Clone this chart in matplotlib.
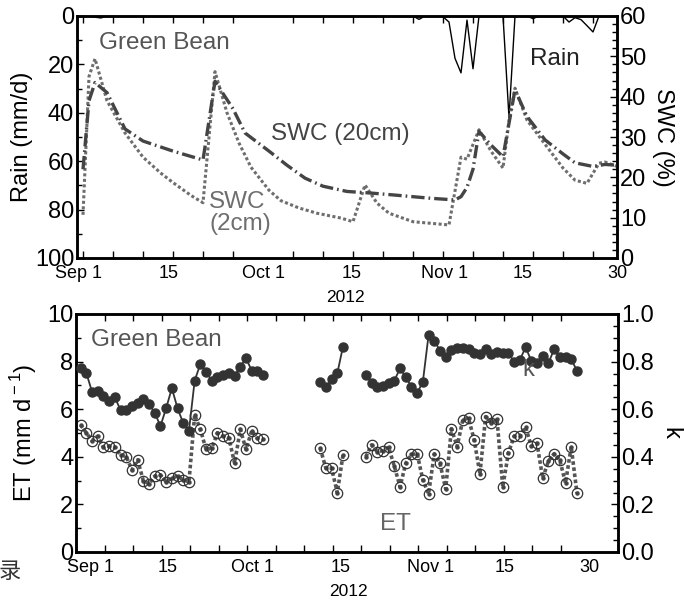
import numpy as np
import matplotlib
matplotlib.use("Agg")
import matplotlib.pyplot as plt
from matplotlib.ticker import MultipleLocator, FixedLocator

plt.rcParams['font.family'] = ['Liberation Sans', 'DejaVu Sans']
plt.rcParams['mathtext.fontset'] = 'custom'
plt.rcParams['mathtext.rm'] = 'Liberation Sans'

# ---- top panel: daily rain and soil water content (day 0 = Sep 1, 2012) ----
rain_mm = [0, 0, 0.5, 0.8, 0, 0, 0, 0, 0, 0,
           0, 0, 0, 0, 0, 0, 0, 0, 0, 0,
           0, 0, 0, 0, 0, 0, 0, 0, 0, 0,
           0, 0, 0, 0, 0, 0, 0, 0, 0, 0,
           0, 0, 0, 0, 0, 0, 0, 0, 0, 0,
           0, 0, 0, 0, 0, 0, 1.4, 0, 0, 0,
           0.3, 2.5, 17.5, 23.5, 1.7, 21.8, 0, 0, 0, 0,
           0, 42, 0, 0, 0, 1.1, 0, 0, 0, 0,
           0, 2.5, 0.7, 1.5, 4.0, 6.6, 0, 0, 0, 0]

swc20_day = [0, 1, 2, 4, 7, 10, 15, 20, 22, 25, 27, 31, 34, 37, 40, 44, 48, 52, 58, 62,
             63, 64, 65, 66, 68, 70, 72, 74, 77, 80, 82, 85, 87, 89]
swc20 = [22, 39, 43.5, 41, 32, 29, 26.5, 24.3, 43.8, 37, 31, 26.5, 23, 19.8, 17.8, 16.5,
         16.1, 15.6, 14.8, 14.4, 15.2, 17.5, 22, 31.4, 28, 25.1, 41.7, 35.1, 29.3, 25.8,
         23.6, 22.7, 23.2, 23]

swc2_day = [0, 1, 2, 4, 7, 10, 13, 15, 18, 20, 22, 24, 26, 28, 31, 33, 36, 39, 43, 45,
            47, 49, 51, 55, 61, 63, 64, 66, 68, 70, 71, 72, 74, 77, 80, 82, 84, 86, 87, 89]
swc2 = [10.7, 45, 49.4, 39, 31, 25, 21, 18.7, 15.5, 13.7, 46.2, 36, 28.5, 22.5, 16.8, 14.2,
        12.4, 11.1, 9.9, 9.0, 18.1, 13.6, 11.1, 9.0, 8.2, 25, 24.5, 31.8, 26.5, 22.3,
        34, 42.1, 34.2, 28.2, 22.3, 19.3, 18.5, 23.5, 23.8, 22.7]

# ---- bottom panel: ET (mm/d) and crop coefficient k, three measuring periods ----
seg_start = [0, 42, 50]
et_seg = [
    [5.34, 5.01, 4.68, 4.87, 4.40, 4.45, 4.40, 4.08, 4.01, 3.45, 3.87, 3.00, 2.86, 3.19,
     3.24, 2.95, 3.10, 3.19, 3.03, 2.95, 5.76, 5.15, 4.31, 4.36, 5.01, 4.87, 4.78, 3.73,
     5.15, 4.31, 5.10, 4.78, 4.73],
    [4.36, 3.52, 3.52, 2.49, 4.08],
    [4.0, 4.5, 4.22, 4.26, 4.4, 3.6, 2.74, 3.73, 4.1, 4.13, 3.02, 2.45, 4.12, 3.72, 2.65,
     5.18, 4.43, 5.56, 5.62, 4.7, 3.28, 5.69, 5.43, 5.57, 2.74, 4.17, 4.87, 4.87, 5.25,
     4.45, 4.57, 3.10, 3.82, 4.13, 3.86, 2.9, 4.42, 2.48],
]
k_seg = [
    [0.772, 0.753, 0.674, 0.676, 0.655, 0.636, 0.650, 0.597, 0.597, 0.613, 0.625, 0.642,
     0.622, 0.585, 0.529, 0.604, 0.688, 0.604, 0.541, 0.510, 0.720, 0.790, 0.758, 0.720,
     0.734, 0.744, 0.753, 0.739, 0.779, 0.814, 0.762, 0.762, 0.744],
    [0.716, 0.692, 0.726, 0.751, 0.863],
    [0.744, 0.711, 0.695, 0.697, 0.709, 0.720, 0.772, 0.734, 0.695, 0.667, 0.716, 0.912,
     0.888, 0.846, 0.821, 0.849, 0.856, 0.856, 0.852, 0.835, 0.832, 0.852, 0.832, 0.842,
     0.837, 0.835, 0.800, 0.807, 0.860, 0.804, 0.793, 0.824, 0.793, 0.852, 0.818, 0.821,
     0.810, 0.762],
]

date_labels = ["Sep 1", "15", "Oct 1", "15", "Nov 1", "15", "30"]
top_label_pos = [-0.8, 14.2, 30, 44.8, 60.2, 73.3, 89]
bot_label_pos = [1.8, 15.2, 30.2, 45.6, 61.3, 74.4, 89.2]

W, H = 685, 605
fig = plt.figure(figsize=(W / 100, H / 100), dpi=100)


def box(x0, y0, x1, y1):
    return [x0 / W, 1 - y1 / H, (x1 - x0) / W, (y1 - y0) / H]


def style(ax):
    for s in ax.spines.values():
        s.set_linewidth(1.8)
    ax.tick_params(which='both', direction='in', width=1.0, labelsize=17, pad=2)
    ax.tick_params(which='major', length=5)
    ax.tick_params(which='minor', length=3.5)


def date_axis(ax, xlim, marks, label_pos):
    ax.set_xlim(*xlim)
    ax.xaxis.set_major_locator(FixedLocator(label_pos))
    ax.set_xticklabels(date_labels)
    ax.xaxis.set_minor_locator(FixedLocator(marks))
    ax.tick_params(axis='x', which='major', length=0, labelsize=13, pad=5)
    ax.tick_params(axis='x', which='minor', length=5, top=True, bottom=True)


# ---------------- top panel ----------------
ax1 = fig.add_axes(box(77, 16, 617, 258))
ax2 = ax1.twinx()
style(ax1)
style(ax2)

ax1.plot(np.arange(len(rain_mm)), rain_mm, color='k', lw=1.0, zorder=3)
ax1.set_ylim(100, 0)
ax1.yaxis.set_major_locator(MultipleLocator(20))
ax1.yaxis.set_minor_locator(MultipleLocator(10))
ax1.set_ylabel("Rain (mm/d)", fontsize=17, labelpad=1)
date_axis(ax1, (-1, 89), np.arange(0, 89, 5), top_label_pos)

ax2.plot(swc2_day, swc2, color='#6e6e6e', lw=2.2, linestyle=(0, (1, 0.8)))
ax2.plot(swc20_day, swc20, color='#444444', lw=2.4, linestyle=(0, (4, 1.2, 0.5, 1.2)))
ax2.set_ylim(0, 60)
ax2.yaxis.set_major_locator(MultipleLocator(10))
ax2.yaxis.set_minor_locator(MultipleLocator(2))
ax2.set_ylabel("SWC (%)", fontsize=17, rotation=270, labelpad=20)

fig.text(164 / W, 1 - 43 / H, "Green Bean", fontsize=17.5, color='#555555',
         ha='center', va='center')
fig.text(340 / W, 1 - 134 / H, "SWC (20cm)", fontsize=17.5, color='#444444',
         ha='center', va='center')
fig.text(209 / W, 1 - 213 / H, "SWC\n(2cm)", fontsize=17.5, color='#6e6e6e',
         ha='left', va='center', linespacing=1.05)
fig.text(555 / W, 1 - 59 / H, "Rain", fontsize=17.5, color='#222222',
         ha='center', va='center')
fig.text(345 / W, 1 - 297 / H, "2012", fontsize=12.5, ha='center', va='center')

# ---------------- bottom panel ----------------
ax3 = fig.add_axes(box(76, 314, 618, 552))
ax4 = ax3.twinx()
style(ax3)
style(ax4)

for start, et in zip(seg_start, et_seg):
    d = np.arange(start, start + len(et))
    ax3.plot(d, et, color='#555555', lw=2.6, linestyle=(0, (1, 0.7)),
             marker='o', ms=2.2, mfc='#444444', mec='#444444', zorder=3)
    ax3.plot(d, et, linestyle='none', marker='o', ms=7.5, mfc='none',
             mec='#333333', mew=0.9, zorder=4)

for start, k in zip(seg_start, k_seg):
    d = np.arange(start, start + len(k))
    ax4.plot(d, k, color='#333333', lw=1.3, marker='o', ms=6.5,
             mfc='#333333', mec='#333333', zorder=5)

ax3.set_ylim(0, 10)
ax3.yaxis.set_major_locator(MultipleLocator(2))
ax3.yaxis.set_minor_locator(MultipleLocator(1))
ax3.set_ylabel(r"ET (mm d$^{\rm -1}$)", fontsize=17, labelpad=6)
date_axis(ax3, (-0.8, 94.2), np.arange(-0.8, 94.3, 5), bot_label_pos)

ax4.set_ylim(0, 1.0)
ax4.yaxis.set_major_locator(MultipleLocator(0.2))
ax4.yaxis.set_minor_locator(MultipleLocator(0.05))
ax4.yaxis.set_major_formatter(matplotlib.ticker.FormatStrFormatter('%.1f'))
ax4.set_ylabel("k", fontsize=17, rotation=270, labelpad=20)

fig.text(156 / W, 1 - 340 / H, "Green Bean", fontsize=17.5, color='#555555',
         ha='center', va='center')
fig.text(528 / W, 1 - 370 / H, "k", fontsize=17, color='#555555',
         ha='center', va='center')
fig.text(395 / W, 1 - 524 / H, "ET", fontsize=17.5, color='#666666',
         ha='center', va='center')
fig.text(348 / W, 1 - 592 / H, "2012", fontsize=12.5, ha='center', va='center')
fig.text(10 / W, 1 - 572 / H, "录", fontsize=16, color='#333333',
         family=['Noto Sans CJK SC'], ha='center', va='center')

fig.savefig("out.png", dpi=100)
